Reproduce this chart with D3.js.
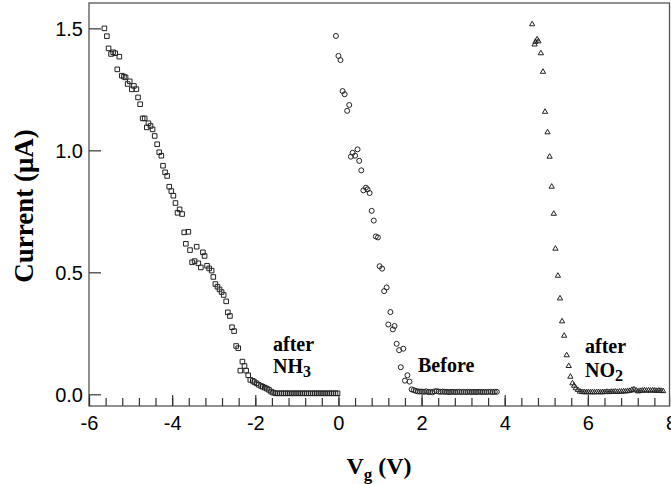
<!DOCTYPE html>
<html>
<head>
<meta charset="utf-8">
<script src="https://cdn.jsdelivr.net/npm/d3@7"></script>
<style>
  body { margin: 0; background: #fff; }
  svg { display: block; }
</style>
</head>
<body>
<div id="chart"></div>
<script>
// Gate voltage (V) vs current (uA)
const nh3 = [
  [-5.63,1.500],[-5.57,1.468],[-5.53,1.418],[-5.47,1.395],[-5.42,1.402],[-5.37,1.398],
  [-5.32,1.332],[-5.27,1.384],[-5.21,1.306],[-5.16,1.302],[-5.12,1.299],[-5.07,1.272],
  [-5.02,1.283],[-4.97,1.250],[-4.92,1.264],[-4.86,1.251],[-4.82,1.217],[-4.77,1.189],
  [-4.71,1.131],[-4.66,1.131],[-4.61,1.094],[-4.57,1.111],[-4.52,1.100],[-4.47,1.086],
  [-4.42,1.059],[-4.36,1.025],[-4.31,0.992],[-4.26,0.978],[-4.22,0.937],[-4.17,0.910],
  [-4.12,0.895],[-4.07,0.851],[-4.02,0.833],[-3.97,0.814],[-3.92,0.784],[-3.87,0.744],
  [-3.82,0.758],[-3.76,0.739],[-3.71,0.664],[-3.67,0.617],[-3.61,0.666],[-3.57,0.591],
  [-3.52,0.541],[-3.46,0.546],[-3.41,0.605],[-3.37,0.537],[-3.31,0.520],[-3.26,0.582],
  [-3.22,0.567],[-3.16,0.527],[-3.11,0.516],[-3.05,0.507],[-3.01,0.481],[-2.96,0.452],
  [-2.91,0.441],[-2.86,0.430],[-2.81,0.419],[-2.76,0.407],[-2.70,0.381],[-2.66,0.336],
  [-2.61,0.321],[-2.56,0.275],[-2.51,0.259],[-2.46,0.198],[-2.41,0.189],[-2.36,0.097],
  [-2.31,0.134],[-2.26,0.116],[-2.22,0.097],[-2.17,0.078],[-2.12,0.059],[-2.06,0.055],
  [-2.02,0.050],[-1.97,0.045],[-1.92,0.039],[-1.86,0.034],[-1.82,0.031],[-1.77,0.027],
  [-1.72,0.023],[-1.67,0.018],[-1.62,0.011],[-1.57,0.007],[-1.52,0.004],[-1.47,0.004],
  [-1.42,0.004],[-1.37,0.004],[-1.32,0.004],[-1.27,0.004],[-1.22,0.004],[-1.17,0.004],
  [-1.12,0.004],[-1.07,0.004],[-1.02,0.004],[-0.97,0.004],[-0.92,0.004],[-0.87,0.004],
  [-0.82,0.004],[-0.77,0.004],[-0.72,0.004],[-0.67,0.004],[-0.62,0.004],[-0.57,0.004],
  [-0.52,0.004],[-0.47,0.004],[-0.42,0.004],[-0.37,0.004],[-0.32,0.004],[-0.27,0.004],
  [-0.22,0.004],[-0.17,0.004],[-0.12,0.004],[-0.07,0.004],[-0.02,0.004]
];

const before = [
  [-0.06,1.469],[0.00,1.387],[0.05,1.370],[0.10,1.243],[0.15,1.230],[0.21,1.162],
  [0.26,1.186],[0.30,0.974],[0.34,0.990],[0.40,0.978],[0.46,1.004],[0.50,0.957],
  [0.55,0.918],[0.60,0.836],[0.66,0.847],[0.70,0.840],[0.75,0.825],[0.80,0.752],
  [0.85,0.712],[0.90,0.647],[0.95,0.643],[0.99,0.525],[1.05,0.515],[1.10,0.423],
  [1.16,0.438],[1.20,0.286],[1.25,0.337],[1.31,0.266],[1.35,0.280],[1.40,0.207],
  [1.46,0.181],[1.50,0.111],[1.56,0.187],[1.60,0.056],[1.66,0.078],[1.71,0.052],
  [1.76,0.020],[1.81,0.017],[1.86,0.014],[1.91,0.012],[1.96,0.011],[2.01,0.011],
  [2.06,0.010],[2.11,0.012],[2.16,0.009],[2.21,0.010],[2.26,0.008],[2.31,0.012],
  [2.36,0.013],[2.41,0.011],[2.46,0.010],[2.51,0.011],[2.56,0.010],[2.61,0.010],
  [2.66,0.009],[2.71,0.010],[2.76,0.010],[2.81,0.009],[2.86,0.010],[2.91,0.010],
  [2.96,0.009],[3.01,0.010],[3.06,0.009],[3.11,0.010],[3.16,0.010],[3.21,0.009],
  [3.26,0.010],[3.31,0.009],[3.36,0.010],[3.41,0.010],[3.46,0.009],[3.51,0.010],
  [3.56,0.009],[3.61,0.010],[3.66,0.010],[3.71,0.009],[3.76,0.010],[3.81,0.010]
];

const no2 = [
  [4.66,1.517],[4.72,1.434],[4.74,1.445],[4.78,1.455],[4.81,1.447],[4.87,1.398],
  [4.92,1.322],[4.97,1.158],[5.03,1.074],[5.08,0.974],[5.13,0.851],[5.18,0.740],
  [5.22,0.597],[5.28,0.486],[5.33,0.393],[5.38,0.299],[5.43,0.240],[5.49,0.160],
  [5.54,0.116],[5.58,0.072],[5.63,0.045],[5.67,0.035],[5.71,0.025],[5.76,0.018],
  [5.81,0.011],[5.86,0.009],[5.91,0.009],[5.96,0.008],[6.01,0.009],[6.06,0.008],
  [6.11,0.009],[6.16,0.008],[6.21,0.009],[6.26,0.009],[6.31,0.008],[6.36,0.009],
  [6.41,0.009],[6.46,0.010],[6.51,0.009],[6.56,0.010],[6.61,0.010],[6.66,0.011],
  [6.71,0.010],[6.76,0.011],[6.81,0.011],[6.86,0.012],[6.91,0.012],[6.96,0.013],
  [7.01,0.014],[7.06,0.018],[7.11,0.020],[7.16,0.016],[7.21,0.012],[7.26,0.014],
  [7.31,0.015],[7.36,0.016],[7.41,0.015],[7.46,0.016],[7.51,0.015],[7.56,0.016],
  [7.61,0.015],[7.66,0.014],[7.71,0.015],[7.76,0.014],[7.81,0.013]
];

const xTicks = [-6, -4, -2, 0, 2, 4, 6, 8];
const yTicks = [0.0, 0.5, 1.0, 1.5];

const width = 671;
const height = 484;

const svg = d3.select("#chart").append("svg")
  .attr("width", width)
  .attr("height", height)
  .style("background", "#fff");

const x = d3.scaleLinear().domain([-6, 8]).range([89, 671]);
const y = d3.scaleLinear().domain([-0.048, 1.604]).range([406, 3]);

// frame
svg.append("rect")
  .attr("x", x(-6))
  .attr("y", y(1.604))
  .attr("width", 669.5 - x(-6))
  .attr("height", y(-0.048) - y(1.604))
  .attr("fill", "none")
  .attr("stroke", "#555")
  .attr("stroke-width", 1.3);

// bottom axis: minor then major ticks, pointing inward
svg.append("g")
  .attr("transform", `translate(0,${y(-0.048)})`)
  .call(d3.axisBottom(x).tickValues(d3.range(-6, 8.01, 0.4)).tickSize(-8).tickFormat(""))
  .call(g => g.select(".domain").remove())
  .call(g => g.selectAll("line").attr("stroke", "#333").attr("stroke-width", 1.2));

svg.append("g")
  .attr("transform", `translate(0,${y(-0.048)})`)
  .call(d3.axisBottom(x).tickValues(xTicks).tickSize(-11).tickFormat(d => String(d)))
  .call(g => g.select(".domain").remove())
  .call(g => g.selectAll("line").attr("stroke", "#333").attr("stroke-width", 1.2))
  .call(g => g.selectAll("text")
    .attr("y", 24).attr("dy", 0)
    .attr("fill", "#000")
    .style("font-family", "'Liberation Sans', Arial, sans-serif")
    .style("font-size", "20px"));

svg.append("g")
  .attr("transform", `translate(${x(-6)},0)`)
  .call(d3.axisLeft(y).tickValues(yTicks).tickSize(-12).tickPadding(7).tickFormat(d3.format(".1f")))
  .call(g => g.select(".domain").remove())
  .call(g => g.selectAll("line").attr("stroke", "#333").attr("stroke-width", 1.2))
  .call(g => g.selectAll("text")
    .attr("x", -6).attr("dy", "0.36em")
    .attr("fill", "#000")
    .style("font-family", "'Liberation Sans', Arial, sans-serif")
    .style("font-size", "20px"));

// axis titles
const serif = "'Liberation Serif', 'Times New Roman', serif";

svg.append("text")
  .attr("transform", `translate(33,206) rotate(-90)`)
  .attr("text-anchor", "middle")
  .style("font-family", serif)
  .style("font-weight", "bold")
  .style("font-size", "27px")
  .text("Current (\u03bcA)");

const xt = svg.append("text")
  .attr("x", 379)
  .attr("y", 474)
  .attr("text-anchor", "middle")
  .style("font-family", serif)
  .style("font-weight", "bold")
  .style("font-size", "24px");
xt.append("tspan").text("V");
xt.append("tspan").attr("dy", 6).style("font-size", "17px").text("g");
xt.append("tspan").attr("dy", -6).text(" (V)");

// markers
const markGroup = svg.append("g")
  .attr("fill", "none")
  .attr("stroke", "#222")
  .attr("stroke-width", 1);

markGroup.append("g")
  .selectAll("path")
  .data(nh3)
  .join("path")
  .attr("transform", d => `translate(${x(d[0])},${y(d[1])})`)
  .attr("d", d3.symbol(d3.symbolSquare, 21));

markGroup.append("g")
  .selectAll("circle")
  .data(before)
  .join("circle")
  .attr("cx", d => x(d[0]))
  .attr("cy", d => y(d[1]))
  .attr("r", 2.5);

markGroup.append("g")
  .selectAll("path")
  .data(no2)
  .join("path")
  .attr("transform", d => `translate(${x(d[0])},${y(d[1])})`)
  .attr("d", d3.symbol(d3.symbolTriangle, 12));

// annotations
function label(xp, yp, main, sub) {
  const t = svg.append("text")
    .attr("x", xp)
    .attr("y", yp)
    .style("font-family", serif)
    .style("font-weight", "bold")
    .style("font-size", "20px");
  t.append("tspan").text(main);
  if (sub) t.append("tspan").attr("dy", 4).style("font-size", "16px").text(sub);
}

label(273, 351, "after");
label(273, 373, "NH", "3");
label(418, 372, "Before");
label(585, 353, "after");
label(585, 377, "NO", "2");
</script>
</body>
</html>
